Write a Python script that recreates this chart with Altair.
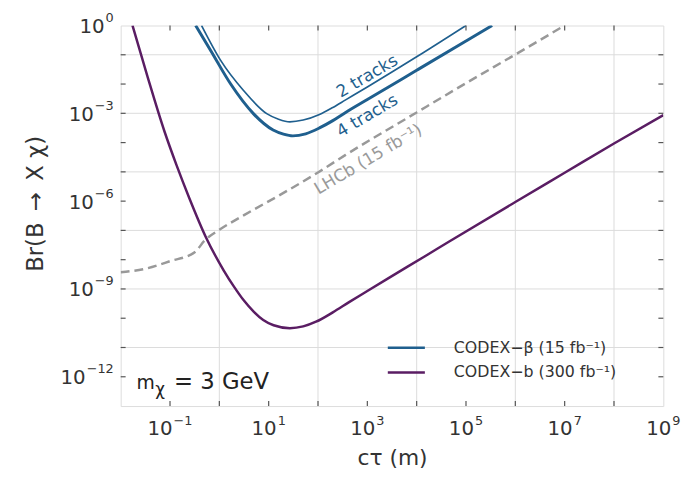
import altair as alt
import pandas as pd

# ---------------- data (log10 values) ----------------
codexb_lx = [-1.76, -1.45, -1.11, -0.87, -0.61, -0.27, 0.09, 0.30, 0.49, 0.70, 0.89, 1.10, 1.43,
             1.70, 1.96, 2.30, 2.63, 3.00, 3.43, 4.16, 4.66, 6.00, 7.00, 8.00, 9.00]
codexb_ly = [0.00, -1.78, -3.63, -4.76, -5.89, -7.24, -8.37, -8.93, -9.38, -9.78, -10.06, -10.24, -10.34,
             -10.28, -10.12, -9.80, -9.45, -9.07, -8.63, -7.89, -7.38, -6.03, -5.03, -4.03, -3.06]

beta4_lx = [-0.48, -0.17, 0.23, 0.69, 1.09, 1.30, 1.49, 1.75, 2.03, 2.30, 2.56, 3.00, 4.00, 5.00, 5.53]
beta4_ly = [0.00, -0.87, -2.00, -3.01, -3.57, -3.71, -3.77, -3.70, -3.50, -3.25, -2.97, -2.53, -1.53, -0.53, 0.00]

beta2_lx = [-0.36, 0.03, 0.49, 0.96, 1.20, 1.43, 1.70, 2.03, 2.30, 2.56, 3.00, 4.00, 5.00]
beta2_ly = [0.00, -1.20, -2.22, -3.01, -3.20, -3.29, -3.23, -3.04, -2.80, -2.54, -2.10, -1.07, 0.00]

lhcb_lx = [-2.00, -1.50, -1.00, -0.50, -0.30, 0.00, 0.50, 1.30, 2.00, 2.56, 4.00, 5.00, 6.00, 7.00]
lhcb_ly = [-8.43, -8.31, -8.05, -7.75, -7.35, -6.98, -6.48, -5.72, -5.02, -4.42, -2.97, -1.97, -0.99, 0.00]

series_names = ["CODEX\u2212\u03b2 (15 fb\u207b\u00b9)", "CODEX\u2212b (300 fb\u207b\u00b9)"]
series_colors = ["#1f5f8e", "#5a1d63"]

x_label_exps = [-1, 1, 3, 5, 7, 9]
y_label_exps = [0, -3, -6, -9, -12]
x_grid_exps = [0, 2, 4, 6, 8]
y_grid_exps = [-1, -3, -5, -7, -9, -11]
x_tick_exps = list(range(-1, 9))
y_tick_exps = list(range(-12, 0))

ann_text = ["2 tracks", "4 tracks", "LHCb (15 fb\u207b\u00b9)"]
ann_lx = [3.0, 3.0, 3.02]
ann_ly = [-1.74, -3.09, -4.58]
ann_color = ["#1f5f8e", "#1f5f8e", "#9a9a9a"]

# ---------------- layout constants ----------------
W, H = 549, 385
FONT = "DejaVu Sans"
TXT = "#333333"
BASE_FS, EXP_FS = 20, 13


def exp_str(k):
    return str(k).replace("-", "\u2212")


def exp_width(k):
    return sum(0.838 if ch == "\u2212" else 0.636 for ch in exp_str(k)) * EXP_FS


BASE_W = 2 * 0.636 * BASE_FS

# ---------------- build tables ----------------
rows = []
for name, ser, w, lxs, lys in [
    ("b", series_names[1], 2.5, codexb_lx, codexb_ly),
    ("beta4", series_names[0], 3.0, beta4_lx, beta4_ly),
    ("beta2", series_names[0], 1.7, beta2_lx, beta2_ly),
]:
    for i, (a, b) in enumerate(zip(lxs, lys)):
        rows.append({"curve": name, "series": ser, "w": w, "i": i, "x": 10 ** a, "y": 10 ** b})
lines_df = pd.DataFrame(rows)
lhcb_df = pd.DataFrame({"i": range(len(lhcb_lx)), "x": [10 ** a for a in lhcb_lx], "y": [10 ** b for b in lhcb_ly]})
ann_df = pd.DataFrame({"t": ann_text, "x": [10 ** a for a in ann_lx], "y": [10 ** b for b in ann_ly], "c": ann_color})

xlab_df = pd.DataFrame({
    "x": [10.0 ** k for k in x_label_exps],
    "e": [exp_str(k) for k in x_label_exps],
    "n": [len(exp_str(k)) for k in x_label_exps],
})
ylab_df = pd.DataFrame({
    "y": [10.0 ** k for k in y_label_exps],
    "e": [exp_str(k) for k in y_label_exps],
    "px_exp": [-7.0 for k in y_label_exps],
    "px_base": [-7.0 - exp_width(k) - 1 for k in y_label_exps],
})

xscale = alt.Scale(type="log", domain=[1e-2, 1e9], nice=False)
yscale = alt.Scale(type="log", domain=[1e-13, 1], nice=False)

xaxis = alt.Axis(values=[10.0 ** k for k in x_label_exps], labels=False,
                 grid=False, ticks=False, domain=False,
                 title="c\u03c4 (m)", titleFont=FONT, titleFontSize=22, titleFontWeight="normal",
                 titleColor=TXT, titleY=52, titleBaseline="middle", titleLimit=400)
yaxis = alt.Axis(values=[10.0 ** k for k in y_label_exps], labels=False,
                 grid=False, ticks=False, domain=False,
                 title="Br(B\u2002\u2192\u2002X \u03c7)", titleFont=FONT, titleFontSize=23, titleFontWeight="normal",
                 titleColor=TXT, titleX=-86, titleY=180, titleBaseline="middle", titleAngle=270,
                 titleLimit=400)


def X(f="x"):
    return alt.X(f"{f}:Q", scale=xscale, axis=xaxis)


def Y(f="y"):
    return alt.Y(f"{f}:Q", scale=yscale, axis=yaxis)


grid_col = "#dcdcdc"
xgrid = alt.Chart(pd.DataFrame({"x": [10.0 ** k for k in x_grid_exps]})).mark_rule(
    color=grid_col, strokeWidth=1).encode(x=X())
ygrid = alt.Chart(pd.DataFrame({"y": [10.0 ** k for k in y_grid_exps]})).mark_rule(
    color=grid_col, strokeWidth=1).encode(y=Y())

tick_col = "#555555"
xt_df = pd.DataFrame({"x": [10.0 ** k for k in x_tick_exps]})
yt_df = pd.DataFrame({"y": [10.0 ** k for k in y_tick_exps]})
tb = alt.Chart(xt_df).mark_rule(color=tick_col, strokeWidth=1.2).encode(x=X(), y=alt.value(H), y2=alt.value(H - 5))
tt = alt.Chart(xt_df).mark_rule(color=tick_col, strokeWidth=1.2).encode(x=X(), y=alt.value(0), y2=alt.value(5))
tl = alt.Chart(yt_df).mark_rule(color=tick_col, strokeWidth=1.2).encode(y=Y(), x=alt.value(0), x2=alt.value(5))
tr = alt.Chart(yt_df).mark_rule(color=tick_col, strokeWidth=1.2).encode(y=Y(), x=alt.value(W), x2=alt.value(W - 5))

# x tick labels: "10" + superscript exponent, centred on the tick (one layer pair per exponent length)
xl_layers = []
for n in sorted(set(xlab_df["n"])):
    ew = exp_width(-1 if n == 2 else (1 if n == 1 else -10))
    total = BASE_W + 1 + ew
    src = alt.Chart(xlab_df).transform_filter(alt.datum.n == n)
    xl_layers.append(src.mark_text(text="10", font=FONT, fontSize=BASE_FS, align="left", baseline="alphabetic",
                                   color=TXT, dx=-total / 2).encode(x=X(), y=alt.value(H + 29)))
    xl_layers.append(src.mark_text(font=FONT, fontSize=EXP_FS, align="left", baseline="alphabetic",
                                   color=TXT, dx=-total / 2 + BASE_W + 1).encode(
        x=X(), y=alt.value(H + 19), text="e:N"))

yl_base = alt.Chart(ylab_df).mark_text(text="10", font=FONT, fontSize=BASE_FS, align="right",
                                       baseline="alphabetic", color=TXT, dy=7.5).encode(
    y=Y(), x=alt.X("px_base:Q", scale=None))
yl_exp = alt.Chart(ylab_df).mark_text(font=FONT, fontSize=EXP_FS, align="right",
                                      baseline="alphabetic", color=TXT, dy=-3.5).encode(
    y=Y(), x=alt.X("px_exp:Q", scale=None), text="e:N")

lhcb = alt.Chart(lhcb_df).mark_line(color="#999999", strokeWidth=2.5, strokeDash=[9, 5], clip=True,
                                    interpolate="monotone").encode(x=X(), y=Y(), order="i:Q")

lines = alt.Chart(lines_df).mark_line(clip=True, interpolate="monotone").encode(
    x=X(), y=Y(),
    color=alt.Color("series:N", scale=alt.Scale(domain=series_names, range=series_colors),
                    legend=alt.Legend(title=None, orient="none", legendX=280, legendY=317,
                                      symbolType="M-2.5,0H2.5", symbolSize=225, symbolStrokeWidth=2.5,
                                      labelFont=FONT, labelFontSize=16, labelColor=TXT, labelLimit=400,
                                      labelOffset=39, rowPadding=8, padding=0)),
    detail="curve:N",
    strokeWidth=alt.StrokeWidth("w:Q", scale=None, legend=None),
    order="i:Q",
)

ann = alt.Chart(ann_df).mark_text(angle=329.4, font=FONT, fontSize=17, align="center", baseline="middle").encode(
    x=X(), y=Y(), text="t:N", color=alt.Color("c:N", scale=None, legend=None))

m_df = pd.DataFrame({"x": [10 ** -1.68], "y": [10 ** -12.43]})
m1 = alt.Chart(m_df).mark_text(text="m", font=FONT, fontSize=19, align="left", baseline="alphabetic",
                               color="#222222").encode(x=X(), y=Y())
m2 = alt.Chart(m_df).mark_text(text="\u03c7", font=FONT, fontSize=17, align="left", baseline="alphabetic",
                               color="#222222", dx=19, dy=6).encode(x=X(), y=Y())
m3 = alt.Chart(m_df).mark_text(text="= 3 GeV", font=FONT, fontSize=23, align="left", baseline="alphabetic",
                               color="#222222", dx=38).encode(x=X(), y=Y())

chart = alt.layer(xgrid, ygrid, lhcb, lines, ann, m1, m2, m3, tb, tt, tl, tr,
                  *xl_layers, yl_base, yl_exp).properties(
    width=W, height=H,
    autosize=alt.AutoSizeParams(type="none"),
    padding={"left": 114, "top": 15, "right": 28, "bottom": 62},
).configure_view(stroke="#555555", strokeWidth=1.5).configure(background="white")

chart.save("out.html", embed_options={"renderer": "svg", "actions": False})
